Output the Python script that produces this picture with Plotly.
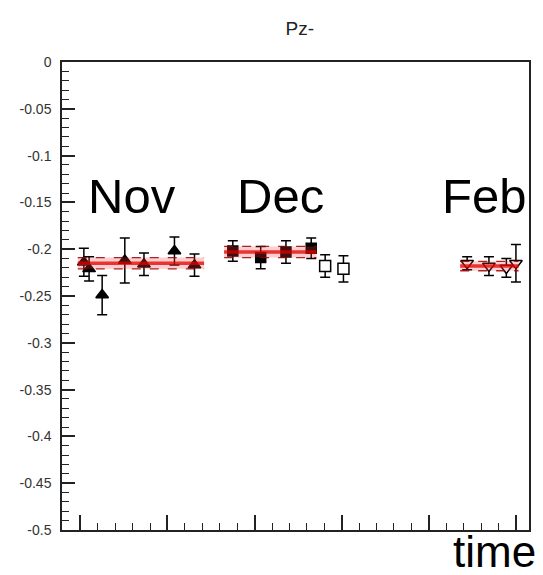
import plotly.graph_objects as go

# ---------------- data ----------------
nov_x = [0.4, 1.0, 2.5, 5.1, 7.3, 10.8, 13.1]
nov_y = [-0.214, -0.221, -0.249, -0.212, -0.216, -0.202, -0.217]
nov_err = [0.015, 0.013, 0.021, 0.024, 0.012, 0.015, 0.012]

dec_fill_x = [17.5, 20.7, 23.6, 26.5]
dec_fill_y = [-0.202, -0.209, -0.203, -0.199]
dec_fill_err = [0.011, 0.012, 0.012, 0.011]

dec_open_x = [28.1, 30.2]
dec_open_y = [-0.218, -0.221]
dec_open_err = [0.012, 0.014]

feb_x = [44.4, 46.9, 48.9, 50.0]
feb_y = [-0.215, -0.218, -0.220, -0.215]
feb_err = [0.007, 0.010, 0.010, 0.020]

# fitted means: [x_start, x_end], mean, error
nov_fit_x = [-0.3, 14.2]
nov_fit_mean = -0.215
nov_fit_err = 0.006
dec_fit_x = [16.5, 27.1]
dec_fit_mean = -0.203
dec_fit_err = 0.006
feb_fit_x = [43.6, 50.3]
feb_fit_mean = -0.218
feb_fit_err = 0.005

group_labels = ["Nov", "Dec", "Feb"]
group_label_x = [5.9, 23.0, 46.3]
group_label_y = [-0.143, -0.143, -0.143]

y_tickvals = [0, -0.05, -0.1, -0.15, -0.2, -0.25, -0.3, -0.35, -0.4, -0.45, -0.5]
y_ticktext = ["0", "-0.05", "-0.1", "-0.15", "-0.2", "-0.25", "-0.3", "-0.35", "-0.4", "-0.45", "-0.5"]

title_text = "Pz-"
x_title = "time"

# ---------------- figure ----------------
fig = go.Figure()

def err_trace(x, y, e, symbol, filled, size):
    return go.Scatter(
        x=x, y=y, mode="markers",
        marker=dict(symbol=symbol, size=size,
                    color="black" if filled else "white",
                    line=dict(color="black", width=1.5)),
        error_y=dict(type="data", array=e, visible=True, color="black",
                     thickness=1.5, width=5),
        showlegend=False, hoverinfo="skip",
    )

fig.add_trace(err_trace(nov_x, nov_y, nov_err, "triangle-up", True, 11))
fig.add_trace(err_trace(dec_fill_x, dec_fill_y, dec_fill_err, "square", True, 10))
fig.add_trace(err_trace(dec_open_x, dec_open_y, dec_open_err, "square", False, 11))
fig.add_trace(err_trace(feb_x, feb_y, feb_err, "triangle-down", False, 11))

def fit_traces(xr, m, e):
    x0, x1 = xr
    band = go.Scatter(
        x=[x0, x1, x1, x0, x0], y=[m - e, m - e, m + e, m + e, m - e],
        mode="lines", fill="toself", fillcolor="rgba(255,60,60,0.25)",
        line=dict(width=0), showlegend=False, hoverinfo="skip")
    lo = go.Scatter(x=[x0, x1], y=[m - e, m - e], mode="lines",
                    line=dict(color="rgba(150,0,0,0.85)", width=1.3, dash="dash"),
                    showlegend=False, hoverinfo="skip")
    hi = go.Scatter(x=[x0, x1], y=[m + e, m + e], mode="lines",
                    line=dict(color="rgba(150,0,0,0.85)", width=1.3, dash="dash"),
                    showlegend=False, hoverinfo="skip")
    mid = go.Scatter(x=[x0, x1], y=[m, m], mode="lines",
                     line=dict(color="rgba(225,0,0,0.75)", width=3.5),
                     showlegend=False, hoverinfo="skip")
    return [band, lo, hi, mid]

for xr, m, e in [(nov_fit_x, nov_fit_mean, nov_fit_err),
                 (dec_fit_x, dec_fit_mean, dec_fit_err),
                 (feb_fit_x, feb_fit_mean, feb_fit_err)]:
    for t in fit_traces(xr, m, e):
        fig.add_trace(t)

for lab, lx, ly in zip(group_labels, group_label_x, group_label_y):
    fig.add_annotation(x=lx, y=ly, xref="x", yref="y", text=lab, showarrow=False,
                       font=dict(family="Liberation Sans, Arial", size=49, color="black"),
                       xanchor="center", yanchor="middle")

fig.add_annotation(x=1.02, y=-0.103, xref="paper", yref="paper", text=x_title,
                   showarrow=False, xanchor="right", yanchor="bottom",
                   font=dict(family="Liberation Sans, Arial", size=44, color="black"))

fig.update_layout(
    width=543, height=575,
    margin=dict(l=62, r=12, t=62, b=45),
    paper_bgcolor="white", plot_bgcolor="white",
    title=dict(text=title_text, x=0.552, xanchor="center", y=0.951, yanchor="middle",
               font=dict(family="Liberation Sans, Arial", size=19, color="#222")),
    xaxis=dict(range=[-2.11, 51.5], showgrid=False, zeroline=False,
               showline=True, linecolor="#222", linewidth=1.5, mirror=True,
               ticks="inside", tick0=0, dtick=10, ticklen=15, tickwidth=1.5,
               tickcolor="#222", showticklabels=False,
               minor=dict(ticks="inside", dtick=2, ticklen=7, tickwidth=1.3,
                          tickcolor="#222")),
    yaxis=dict(range=[-0.5, 0], showgrid=False, zeroline=False,
               showline=True, linecolor="#222", linewidth=1.5, mirror=True,
               ticks="inside", tickvals=y_tickvals, ticktext=y_ticktext,
               ticklen=13, tickwidth=1.5, tickcolor="#222",
               ticklabelstandoff=6,
               tickfont=dict(family="Liberation Sans, Arial", size=14, color="#333"),
               minor=dict(ticks="inside", dtick=0.01, tick0=0, ticklen=7,
                          tickwidth=1.3, tickcolor="#222")),
)

fig.write_html("out.html", config={"displayModeBar": False},
               post_script="document.body.style.margin='0';document.body.style.overflow='hidden';")
